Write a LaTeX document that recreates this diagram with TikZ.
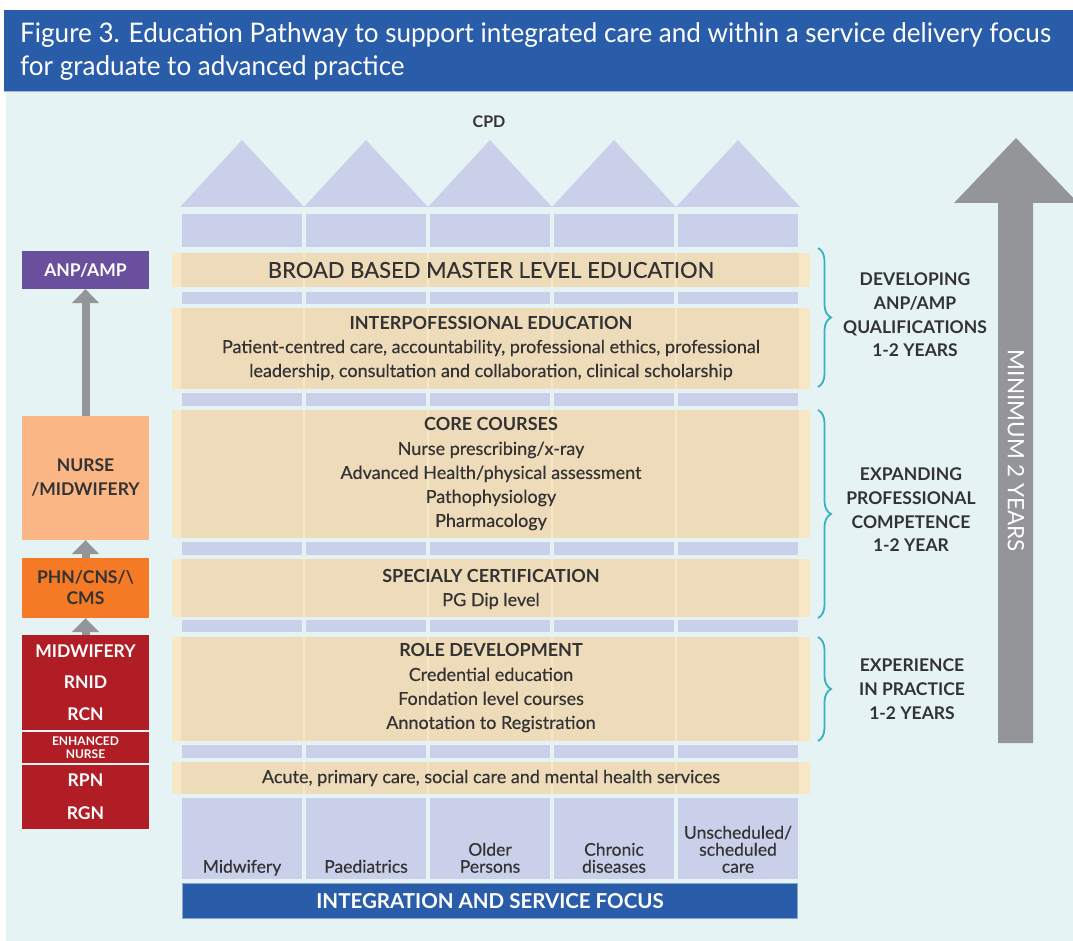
\documentclass[tikz,border=0pt]{standalone}
\usepackage{fontspec}
\setmainfont{Lato}
\newfontfamily\medfont{Lato}[FakeBold=0.35]
\newcommand{\hd}[1]{{\normalfont\bfseries #1}}
\usetikzlibrary{arrows.meta,positioning,decorations.pathreplacing}

\definecolor{titleblue}{HTML}{2A5DA9}
\definecolor{bgcyan}{HTML}{E5F3F4}
\definecolor{lavender}{HTML}{CBD0EA}
\definecolor{creamlight}{HTML}{F7E7C5}
\definecolor{creamdark}{HTML}{EEDBBA}
\definecolor{anppurple}{HTML}{6A4F9D}
\definecolor{peach}{HTML}{FBB685}
\definecolor{phnorange}{HTML}{F47A25}
\definecolor{darkred}{HTML}{B11D25}
\definecolor{arrowgray}{HTML}{939598}
\definecolor{braceteal}{HTML}{36B3C1}
\definecolor{txt}{HTML}{333333}

\begin{document}
\begin{tikzpicture}[x=1pt,y=-1pt,
    lbox/.style={minimum width=127pt,inner sep=0pt,align=center,font=\bfseries\fontsize{17.5}{24}\selectfont},
    bandtxt/.style={align=center,text=txt,inner sep=0pt,font=\medfont\fontsize{18}{24}\selectfont},
    sidetxt/.style={align=center,text=txt,inner sep=0pt,font=\bfseries\fontsize{17.5}{23.7}\selectfont},
    coltxt/.style={align=center,text=txt,inner sep=0pt,anchor=south,font=\medfont\fontsize{17.5}{17}\selectfont},
    uparrow/.style={draw=arrowgray,line width=8pt,-{Triangle[width=27pt,length=14pt]}},
    brace/.style={draw=braceteal,line width=1.8pt,decorate,decoration={brace,amplitude=13pt}}]
    \useasboundingbox (0,0) rectangle (1073,941);
    \fill[white] (0,0) rectangle (1073,941);
    % title bar and background
    \fill[titleblue] (4,10) rectangle (1073,91);
    \fill[bgcyan] (6,92) rectangle (1073,941);
    \draw[color=titleblue!45,line width=1.2pt] (4,91.6) -- (1073,91.6);
    \node[anchor=base west,inner sep=0pt,text=white,font=\fontsize{27}{33}\selectfont] (title1) at (20,43)
      {\scalebox{0.965}[1]{Figure 3. Education Pathway to support integrated care and within a service delivery focus}};
    \node[anchor=base west,inner sep=0pt,text=white,font=\fontsize{27}{33}\selectfont] (title2) at (20,76)
      {\scalebox{0.965}[1]{for graduate to advanced practice}};

    % roofs and columns
    \node[text=txt,font=\bfseries\fontsize{16}{18}\selectfont] (cpd) at (489,122) {CPD};
    \foreach \i in {0,...,4}
      \fill[lavender] ({180+124*\i},207) -- ({242+124*\i},140) -- ({304+124*\i},207) -- cycle;
    \foreach \ya/\yb in {214/247,292/304,393/406,542/555,620/632,745/758,798/879}
      \foreach \i in {0,...,4}
        \fill[lavender] ({182+124*\i},\ya) rectangle ({302+124*\i},\yb);
    \foreach \ya/\yb in {253/287,308/389,410/538,559/617,637/741,762/794}{
      \fill[creamlight] (172,\ya) rectangle (810,\yb);
      \foreach \i in {0,...,4}
        \fill[creamdark] ({181+124*\i},\ya) rectangle ({303+124*\i},\yb);
    }

    % band texts
    \node[bandtxt,font=\medfont\fontsize{22}{24}\selectfont] (broad) at (491,270) {BROAD BASED MASTER LEVEL EDUCATION};
    \node[bandtxt] (ipe) at (491,348) {\hd{INTERPOFESSIONAL EDUCATION}\\
      Patient-centred care, accountability, professional ethics, professional\\
      leadership, consultation and collaboration, clinical scholarship};
    \node[bandtxt] (core) at (491,474) {\hd{CORE COURSES}\\Nurse prescribing/x-ray\\
      Advanced Health/physical assessment\\Pathophysiology\\Pharmacology};
    \node[bandtxt] (spec) at (491,589) {\hd{SPECIALY CERTIFICATION}\\PG Dip level};
    \node[bandtxt] (role) at (491,688) {\hd{ROLE DEVELOPMENT}\\Credential education\\
      Fondation level courses\\Annotation to Registration};
    \node[bandtxt] (acute) at (491,778) {Acute, primary care, social care and mental health services};

    % service columns
    \node[coltxt] (midw) at (242,878) {Midwifery\strut};
    \node[coltxt] (paed) at (366,878) {Paediatrics\strut};
    \node[coltxt] (older) at (490,878) {Older\\Persons\strut};
    \node[coltxt] (chron) at (614,878) {Chronic\\diseases\strut};
    \node[coltxt] (unsch) at (738,878) {Unscheduled/\\scheduled\\care\strut};
    \node[fill=titleblue,draw=titleblue!55,line width=1pt,minimum width=615pt,minimum height=35pt,
      text=white,font=\bfseries\fontsize{20.5}{22}\selectfont] (integ) at (490,901) {INTEGRATION AND SERVICE FOCUS};

    % left pathway
    \node[lbox,fill=anppurple,text=white,minimum height=38pt] (anp) at (85.5,270) {ANP/AMP};
    \node[lbox,fill=peach,text=txt,minimum height=124pt] (nurse) at (85.5,478) {NURSE\\/MIDWIFERY};
    \node[lbox,fill=phnorange,text=txt,minimum height=60pt,font=\bfseries\fontsize{17.5}{21}\selectfont]
      (phn) at (85.5,588) {PHN/CNS/\textbackslash\\CMS};
    \node[lbox,fill=darkred,text=white,minimum height=95pt,font=\bfseries\fontsize{17.5}{31.5}\selectfont]
      (regs) at (85.5,682.5) {MIDWIFERY\\RNID\\RCN};
    \node[lbox,fill=darkred,text=white,minimum height=31pt,font=\bfseries\fontsize{12}{13.5}\selectfont]
      (enh) at (85.5,747.5) {ENHANCED\\NURSE};
    \node[lbox,fill=darkred,text=white,minimum height=64pt,font=\bfseries\fontsize{17.5}{33}\selectfont]
      (rgn) at (85.5,797) {RPN\\RGN};
    \draw[uparrow] (nurse) -- (anp);
    \draw[uparrow] (phn) -- (nurse);
    \draw[uparrow] (regs) -- (phn);

    % braces and stages
    \coordinate (b1top) at (818,248); \coordinate (b1bot) at (818,387);
    \coordinate (b2top) at (818,410); \coordinate (b2bot) at (818,618);
    \coordinate (b3top) at (818,637); \coordinate (b3bot) at (818,741);
    \draw[brace] (b1top) -- (b1bot);
    \draw[brace] (b2top) -- (b2bot);
    \draw[brace] (b3top) -- (b3bot);
    \node[sidetxt] (devel) at (915,315) {DEVELOPING\\ANP/AMP\\QUALIFICATIONS\\1-2 YEARS};
    \node[sidetxt] (expand) at (911,510) {EXPANDING\\PROFESSIONAL\\COMPETENCE\\1-2 YEAR};
    \node[sidetxt] (exper) at (912,689) {EXPERIENCE\\IN PRACTICE\\1-2 YEARS};

    % big arrow
    \begin{scope}
      \clip (0,0) rectangle (1073,941);
      \fill[arrowgray] (998,743) -- (998,203) -- (954,203) -- (1016,138) -- (1078,203)
        -- (1033,203) -- (1033,743) -- cycle;
    \end{scope}
    \node[rotate=-90,text=white,font=\fontsize{22.5}{24}\selectfont] (minyrs) at (1016,451) {MINIMUM 2 YEARS};
  \end{tikzpicture}
\end{document}
